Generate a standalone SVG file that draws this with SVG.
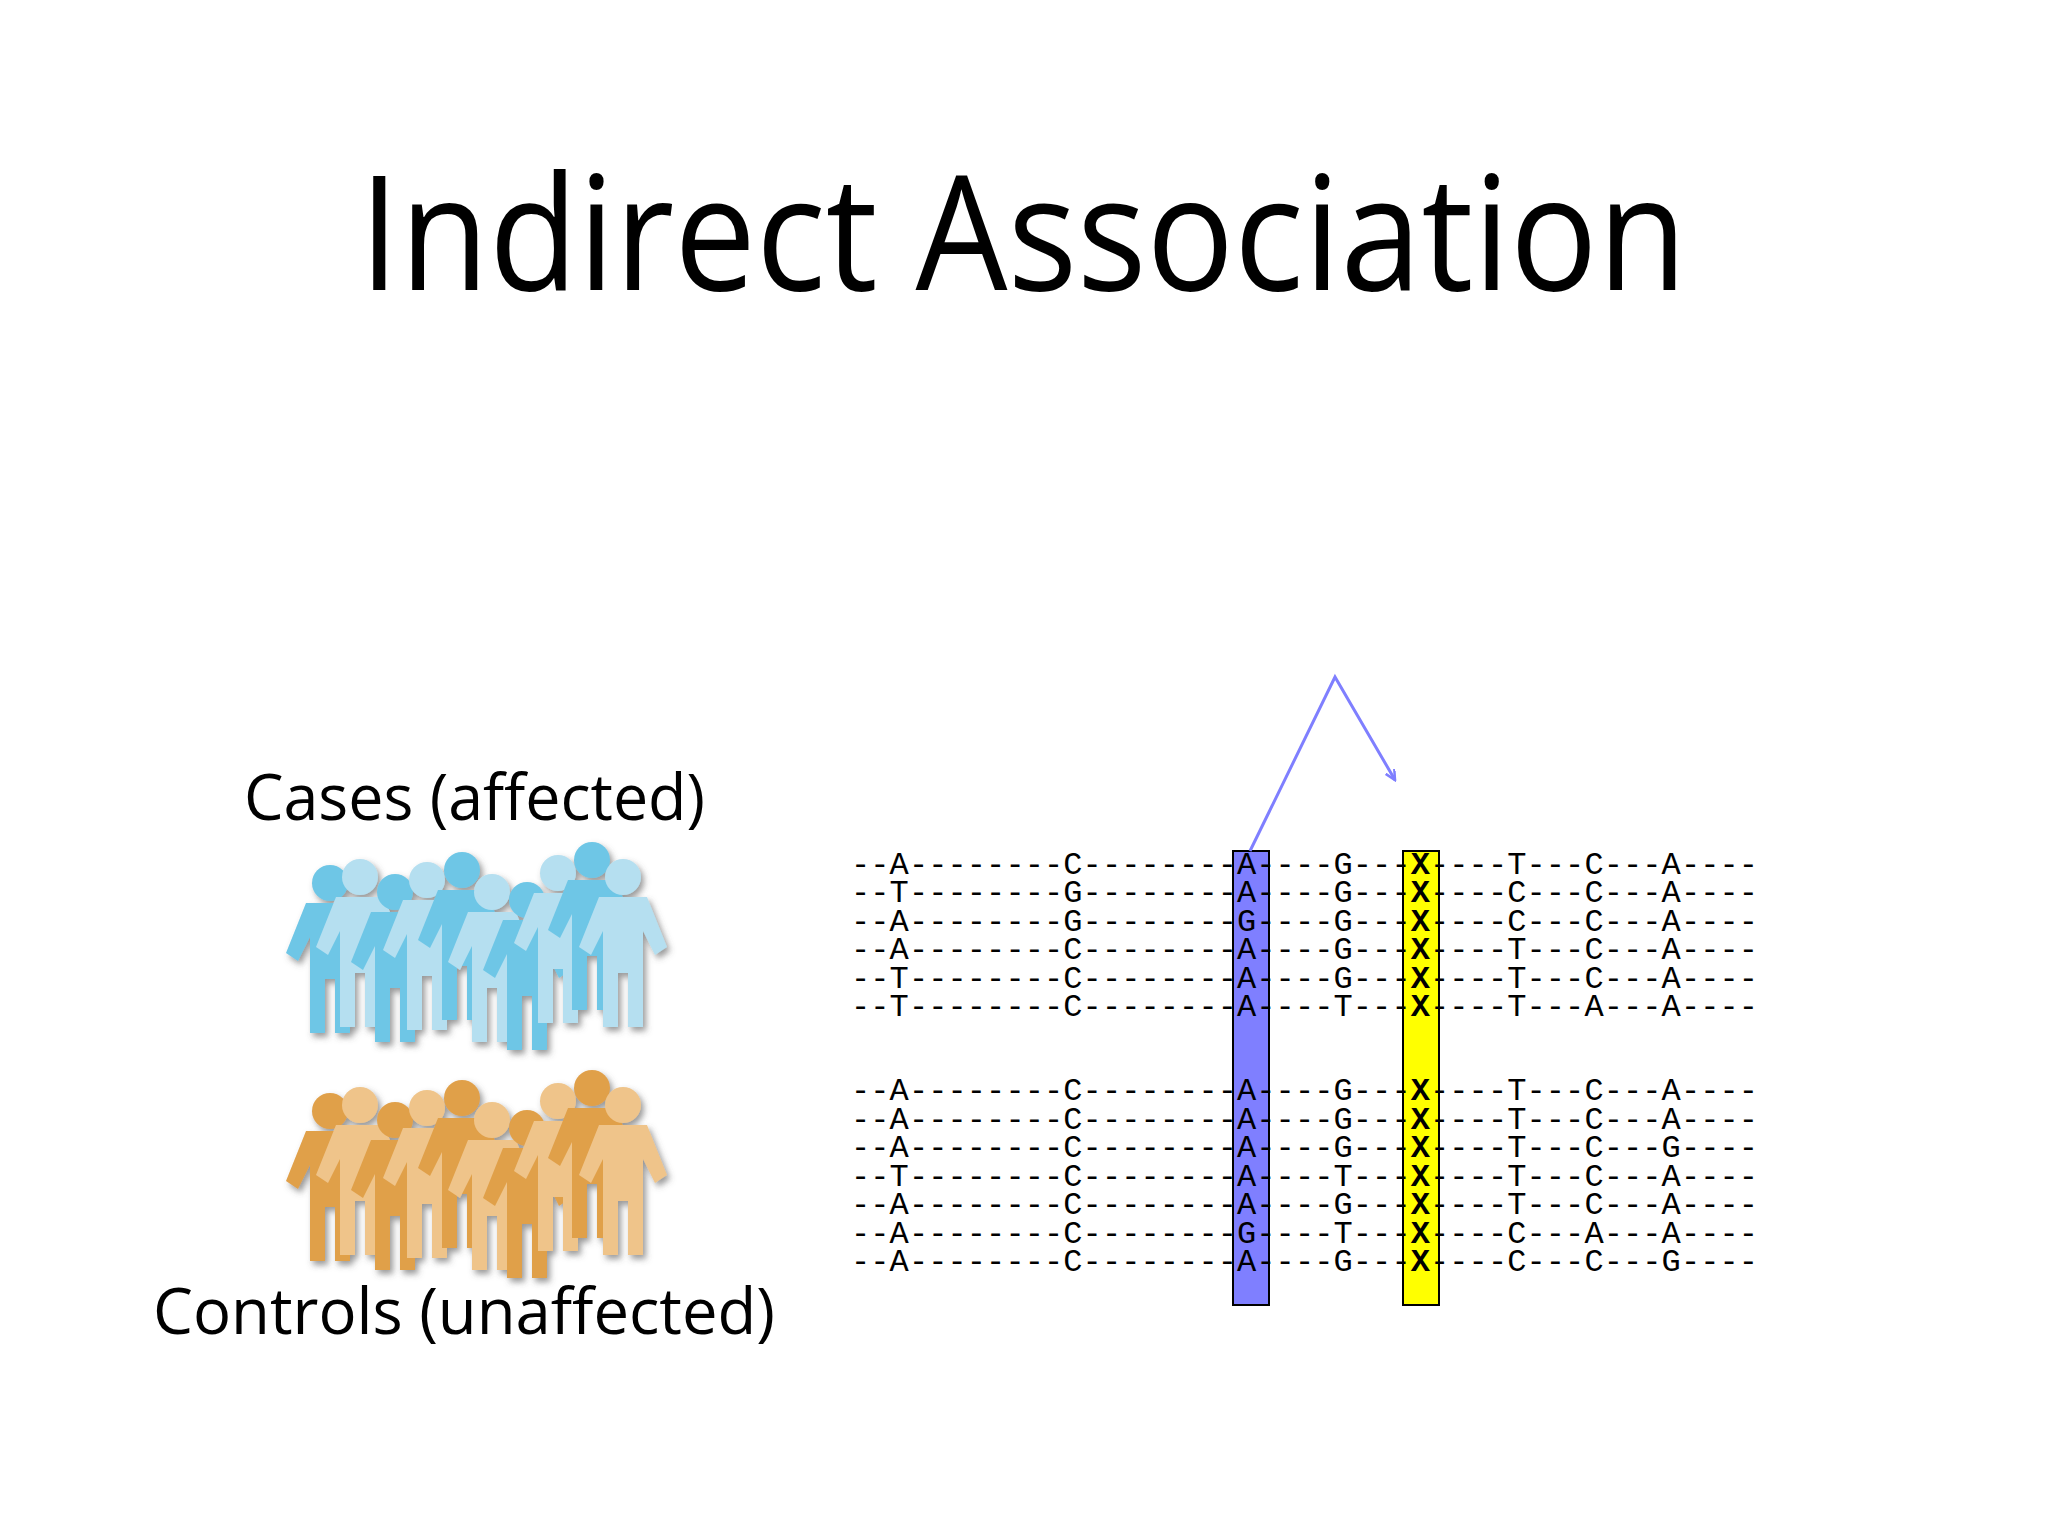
<svg xmlns="http://www.w3.org/2000/svg" width="2048" height="1536" viewBox="0 0 2048 1536">
<defs>
<style>
.title{font-family:"Open Sans","Lato","DejaVu Sans",sans-serif;font-size:160px;fill:#000}
.lbl{font-family:"Open Sans","Lato","DejaVu Sans",sans-serif;font-size:64px;fill:#000}
.seq{font-family:"Liberation Mono","Courier New",monospace;font-size:32px;fill:#000}
.x{font-weight:bold}
.bd{fill:#6ec6e6}.bl{fill:#b5dff0}.od{fill:#e0a04a}.ol{fill:#efc48a}
</style>
<filter id="sh" x="-10%" y="-10%" width="130%" height="130%"><feDropShadow dx="3" dy="4" stdDeviation="3" flood-color="#555" flood-opacity="0.6"/></filter>
<symbol id="p" overflow="visible"><circle cx="0" cy="0" r="18"/><path d="M-24,20 H24 L44,70 L32,78 L20,54 V150 H5 V96 H-5 V150 H-20 V54 L-32,78 L-44,70 Z"/></symbol>
<marker id="ah" markerWidth="12" markerHeight="12" refX="10" refY="5" orient="auto" markerUnits="userSpaceOnUse"><path d="M0,0 L10,5 L0,10" fill="none" stroke="#7f7fff" stroke-width="2.5"/></marker>
</defs>
<rect width="2048" height="1536" fill="#fff"/>
<text class="title" x="1023" y="290" text-anchor="middle" textLength="1328" lengthAdjust="spacingAndGlyphs">Indirect Association</text>
<g id="cases-label"><text class="lbl" x="244" y="820" textLength="461" lengthAdjust="spacingAndGlyphs">Cases (affected)</text></g>
<g id="controls-label"><text class="lbl" x="153" y="1334" textLength="622" lengthAdjust="spacingAndGlyphs">Controls (unaffected)</text></g>
<g id="cases-people" filter="url(#sh)">
<use href="#p" x="330" y="883" class="bd"/><use href="#p" x="360" y="877" class="bl"/><use href="#p" x="395" y="892" class="bd"/><use href="#p" x="427" y="880" class="bl"/><use href="#p" x="462" y="870" class="bd"/><use href="#p" x="492" y="892" class="bl"/><use href="#p" x="527" y="900" class="bd"/><use href="#p" x="558" y="873" class="bl"/><use href="#p" x="592" y="860" class="bd"/><use href="#p" x="623" y="877" class="bl"/>
</g>
<g id="controls-people" filter="url(#sh)">
<use href="#p" x="330" y="1111" class="od"/><use href="#p" x="360" y="1105" class="ol"/><use href="#p" x="395" y="1120" class="od"/><use href="#p" x="427" y="1108" class="ol"/><use href="#p" x="462" y="1098" class="od"/><use href="#p" x="492" y="1120" class="ol"/><use href="#p" x="527" y="1128" class="od"/><use href="#p" x="558" y="1101" class="ol"/><use href="#p" x="592" y="1088" class="od"/><use href="#p" x="623" y="1105" class="ol"/>
</g>
<g id="columns">
<rect x="1233" y="851" width="36" height="454" fill="#7f7fff" stroke="#000" stroke-width="2"/>
<rect x="1403" y="851" width="36" height="454" fill="#ffff00" stroke="#000" stroke-width="2"/>
</g>
<g id="connectors"><polyline points="1250,851 1335,677 1395,780" fill="none" stroke="#7f7fff" stroke-width="3" marker-end="url(#ah)"/></g>
<g id="sequences" class="seq">
<text x="851" y="874" textLength="907">--A--------C--------A----G---<tspan class="x">X</tspan>----T---C---A----</text>
<text x="851" y="902" textLength="907">--T--------G--------A----G---<tspan class="x">X</tspan>----C---C---A----</text>
<text x="851" y="931" textLength="907">--A--------G--------G----G---<tspan class="x">X</tspan>----C---C---A----</text>
<text x="851" y="959" textLength="907">--A--------C--------A----G---<tspan class="x">X</tspan>----T---C---A----</text>
<text x="851" y="988" textLength="907">--T--------C--------A----G---<tspan class="x">X</tspan>----T---C---A----</text>
<text x="851" y="1016" textLength="907">--T--------C--------A----T---<tspan class="x">X</tspan>----T---A---A----</text>
<text x="851" y="1100" textLength="907">--A--------C--------A----G---<tspan class="x">X</tspan>----T---C---A----</text>
<text x="851" y="1129" textLength="907">--A--------C--------A----G---<tspan class="x">X</tspan>----T---C---A----</text>
<text x="851" y="1157" textLength="907">--A--------C--------A----G---<tspan class="x">X</tspan>----T---C---G----</text>
<text x="851" y="1186" textLength="907">--T--------C--------A----T---<tspan class="x">X</tspan>----T---C---A----</text>
<text x="851" y="1214" textLength="907">--A--------C--------A----G---<tspan class="x">X</tspan>----T---C---A----</text>
<text x="851" y="1243" textLength="907">--A--------C--------G----T---<tspan class="x">X</tspan>----C---A---A----</text>
<text x="851" y="1271" textLength="907">--A--------C--------A----G---<tspan class="x">X</tspan>----C---C---G----</text>
</g>
</svg>
